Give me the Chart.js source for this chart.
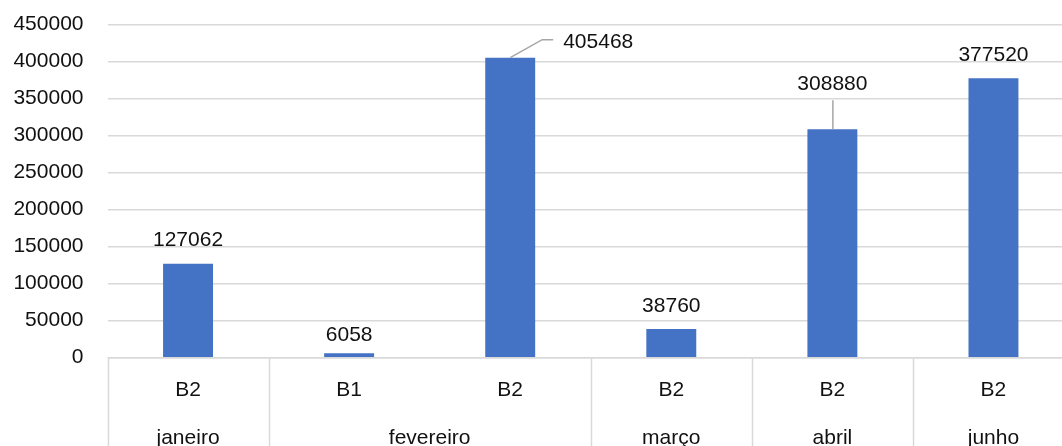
<!DOCTYPE html>
<html>
<head>
<meta charset="utf-8">
<script src="https://cdn.jsdelivr.net/npm/chart.js@4.4.1/dist/chart.umd.min.js"></script>
<style>
  html, body { margin: 0; padding: 0; background: #ffffff; overflow: hidden; }
  #wrap { position: relative; width: 1074px; height: 480px; }
</style>
</head>
<body>
<div id="wrap"><canvas id="chart" width="1074" height="480"></canvas></div>
<script>
// Inner category row (one per bar) and the outer month groups spanning them
const blocks = ['B2', 'B1', 'B2', 'B2', 'B2', 'B2'];
const months = ['janeiro', 'fevereiro', 'março', 'abril', 'junho'];
const monthSpans = [1, 2, 1, 1, 1];
const values = [127062, 6058, 405468, 38760, 308880, 377520];
const yMin = 0;
const yMax = 450000;
const yStep = 50000;

const FONT_FAMILY = '"Liberation Sans", Arial, sans-serif';
const FONT_SIZE = 21;
const TEXT_COLOR = '#111111';
const LINE_COLOR = '#d9d9d9';

// Per-label placement tweaks (pixel offsets of label centre from bar top)
const labelPlacement = {
  1: { dx: 0, dy: -20 },
  2: { dx: 88, dy: -17, leader: 'elbow' },
  4: { dx: 0, dy: -47, leader: 'vertical' }
};

const multiLevelAxis = {
  id: 'multiLevelAxis',
  afterDatasetsDraw(chart) {
    const ctx = chart.ctx;
    const area = chart.chartArea;
    const n = blocks.length;
    const w = (area.right - area.left) / n;
    const bottom = chart.height;

    ctx.save();
    // axis line
    ctx.strokeStyle = LINE_COLOR;
    ctx.lineWidth = 1.5;
    ctx.beginPath();
    ctx.moveTo(area.left, area.bottom);
    ctx.lineTo(area.right, area.bottom);
    ctx.stroke();

    // group separators
    let k = 0;
    const bounds = [0];
    monthSpans.forEach(s => { k += s; bounds.push(k); });
    ctx.beginPath();
    bounds.forEach(b => {
      const x = Math.round(area.left + b * w) + 0.5;
      ctx.moveTo(x, area.bottom);
      ctx.lineTo(x, bottom);
    });
    ctx.stroke();

    // labels
    ctx.fillStyle = TEXT_COLOR;
    ctx.font = FONT_SIZE + 'px ' + FONT_FAMILY;
    ctx.textAlign = 'center';
    ctx.textBaseline = 'alphabetic';
    const xScale = chart.scales.x;
    blocks.forEach((b, i) => {
      ctx.fillText(b, xScale.getPixelForValue(i), area.bottom + 38.5);
    });
    months.forEach((m, gi) => {
      const x0 = area.left + bounds[gi] * w;
      const x1 = area.left + bounds[gi + 1] * w;
      ctx.fillText(m, (x0 + x1) / 2, area.bottom + 86);
    });

    // data labels
    const meta = chart.getDatasetMeta(0);
    const capHalf = FONT_SIZE * 0.358;
    meta.data.forEach((bar, i) => {
      const p = labelPlacement[i] || { dx: 0, dy: -25 };
      const top = bar.y;
      const cx = bar.x + p.dx;
      const cy = top + p.dy;
      if (p.leader) {
        ctx.strokeStyle = '#a6a6a6';
        ctx.lineWidth = 1.5;
        ctx.beginPath();
        if (p.leader === 'elbow') {
          ctx.moveTo(bar.x, top);
          ctx.lineTo(bar.x + 32, top - 18);
          ctx.lineTo(bar.x + 43, top - 18);
        } else {
          ctx.moveTo(bar.x + 0.5, top);
          ctx.lineTo(bar.x + 0.5, top - 29);
        }
        ctx.stroke();
      }
      ctx.fillStyle = TEXT_COLOR;
      ctx.fillText(String(values[i]), cx, cy + capHalf);
    });
    ctx.restore();
  }
};

new Chart(document.getElementById('chart'), {
  type: 'bar',
  data: {
    labels: blocks,
    datasets: [{
      data: values,
      backgroundColor: '#4472c4',
      borderWidth: 0,
      categoryPercentage: 1,
      barPercentage: 0.31
    }]
  },
  options: {
    responsive: false,
    animation: false,
    devicePixelRatio: 1,
    layout: { padding: { top: 24.7, bottom: 122.3, left: 0, right: 0 } },
    plugins: {
      legend: { display: false },
      tooltip: { enabled: false }
    },
    scales: {
      x: { display: false },
      y: {
        min: yMin,
        max: yMax,
        ticks: {
          stepSize: yStep,
          padding: 24,
          color: TEXT_COLOR,
          font: { family: FONT_FAMILY, size: FONT_SIZE },
          callback: v => String(v)
        },
        grid: { color: LINE_COLOR, lineWidth: 1.5, drawTicks: false },
        border: { display: false },
        afterFit(scale) {
          scale.width = 107.5;
          scale.paddingTop = 12;
          scale.paddingBottom = 12;
        }
      }
    }
  },
  plugins: [multiLevelAxis]
});
</script>
</body>
</html>
